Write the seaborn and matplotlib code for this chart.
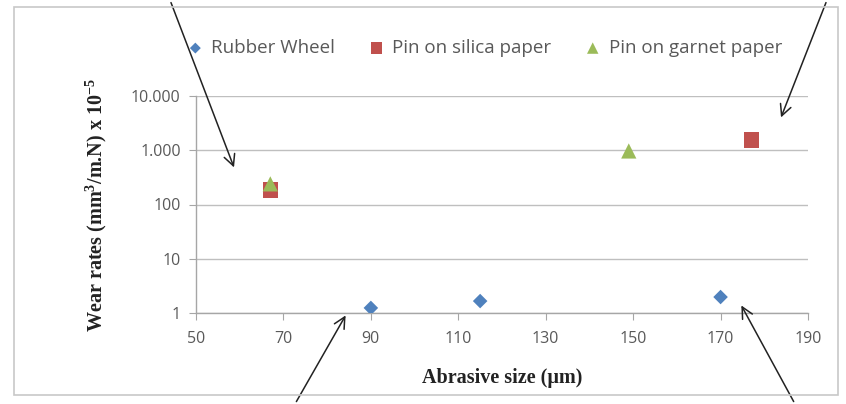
import matplotlib
matplotlib.use("Agg")
import matplotlib.pyplot as plt
import matplotlib.ticker as mticker
from matplotlib.patches import Rectangle, FancyArrowPatch
import seaborn as sns
import pandas as pd

series_names = ["Rubber Wheel", "Pin on silica paper", "Pin on garnet paper"]
rubber_x = [90, 115, 170]
rubber_y = [1.24, 1.66, 1.97]
silica_x = [67, 177]
silica_y = [185, 1550]
garnet_x = [67, 149]
garnet_y = [240, 970]
x_ticks = [50, 70, 90, 110, 130, 150, 170, 190]
y_ticks = [1, 10, 100, 1000, 10000]
y_tick_labels = ["1", "10", "100", "1.000", "10.000"]

df = pd.concat([
    pd.DataFrame({"x": rubber_x, "y": rubber_y, "s": series_names[0]}),
    pd.DataFrame({"x": silica_x, "y": silica_y, "s": series_names[1]}),
    pd.DataFrame({"x": garnet_x, "y": garnet_y, "s": series_names[2]}),
])

sns.set_style("white")
plt.rcParams['font.family'] = ['Open Sans', 'DejaVu Sans']
plt.rcParams['mathtext.fontset'] = 'custom'
plt.rcParams['mathtext.rm'] = 'Liberation Serif:bold'
plt.rcParams['mathtext.it'] = 'Liberation Serif:bold'
plt.rcParams['mathtext.bf'] = 'Liberation Serif:bold'

fig = plt.figure(figsize=(8.46, 4.04), dpi=100)
ax = fig.add_axes([196/846, 1-313/404, (808-196)/846, (313-96)/404])

palette = {series_names[0]: "#4F81BD", series_names[1]: "#C0504D", series_names[2]: "#9BBB59"}
markers = {series_names[0]: "D", series_names[1]: "s", series_names[2]: "^"}
sizes = {series_names[0]: 55, series_names[1]: 120, series_names[2]: 120}

for name in series_names:
    sub = df[df.s == name]
    sns.scatterplot(data=sub, x="x", y="y", ax=ax, color=palette[name], marker=markers[name],
                    s=sizes[name], edgecolor="none", label=name, zorder=5)

ax.set_yscale("log")
ax.set_ylim(1, 10000)
ax.set_xlim(50, 190)
ax.set_xticks(x_ticks)
ax.set_xticklabels([str(v) for v in x_ticks])
ax.yaxis.set_major_locator(mticker.FixedLocator(y_ticks))
ax.yaxis.set_major_formatter(mticker.FixedFormatter(y_tick_labels))
ax.yaxis.set_minor_locator(mticker.NullLocator())
ax.grid(axis="y", color="#BFBFBF", linewidth=1.0)
ax.grid(axis="x", visible=False)
for sp in ["top", "right"]:
    ax.spines[sp].set_visible(False)
for sp in ["left", "bottom"]:
    ax.spines[sp].set_color("#A6A6A6")
    ax.spines[sp].set_linewidth(1.0)
ax.tick_params(axis="x", direction="out", length=5, color="#A6A6A6", labelsize=11.5, labelcolor="#595959", pad=8)
ax.tick_params(axis="y", direction="out", length=5, color="#A6A6A6", labelsize=11.5, labelcolor="#595959", pad=6)
ax.tick_params(bottom=True, left=True)

ax.set_xlabel("Abrasive size (μm)", fontsize=14.5, fontweight="bold",
              family=["Liberation Serif", "DejaVu Serif"], color="#222222", labelpad=15)
ax.set_ylabel("Wear rates (mm$^3$/m.N) x 10$^{-5}$", fontsize=14.5, fontweight="bold",
              family=["Liberation Serif", "DejaVu Serif"], color="#222222", labelpad=16)

leg = ax.legend(loc="center", bbox_to_anchor=(484/846, 1-48/404), bbox_transform=fig.transFigure,
                ncol=3, frameon=False, fontsize=13.5, handlelength=1.0, handletextpad=0.35,
                columnspacing=1.7, markerscale=0.75)
for t in leg.get_texts():
    t.set_color("#595959")

# outer chart border
fig.patches.append(Rectangle((14/846, 1-395/404), (838-14)/846, (395-7)/404, transform=fig.transFigure,
                             fill=False, edgecolor="#C8C8C8", linewidth=1.2))

# annotation arrows (figure pixel coords)
arrows = [((170, 0), (235, 170)), ((827, 0), (780, 120)), ((295, 404), (347, 313)), ((795, 404), (740, 303))]
for (x0, y0), (x1, y1) in arrows:
    fig.add_artist(FancyArrowPatch((x0/846, 1-y0/404), (x1/846, 1-y1/404),
                   transform=fig.transFigure, arrowstyle="->,head_length=8,head_width=4",
                   color="#222222", linewidth=1.1, mutation_scale=1))

fig.savefig("out.png", dpi=100)
